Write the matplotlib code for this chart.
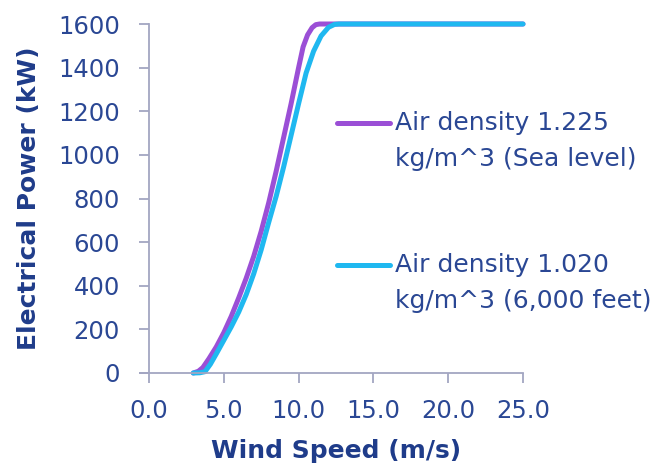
import matplotlib
matplotlib.use('Agg')
import matplotlib.pyplot as plt
from matplotlib.lines import Line2D

# wind speed (m/s) and power (kW)
ws_sea = [2.96, 3.3, 3.6, 4.0, 4.5, 5.0, 5.5, 6.0, 6.5, 7.0, 7.5, 8.0, 8.5, 9.0,
          9.5, 10.0, 10.3, 10.6, 10.9, 11.15, 11.4, 25.0]
pw_sea = [0, 8, 25, 65, 120, 185, 260, 345, 435, 535, 650, 780, 925, 1080,
          1235, 1400, 1495, 1550, 1583, 1597, 1600, 1600]

ws_6k = [2.96, 3.4, 3.74, 4.1, 4.5, 5.0, 5.5, 6.0, 6.5, 7.0, 7.5, 8.0, 8.5, 9.0,
         9.5, 10.0, 10.5, 11.0, 11.5, 12.0, 12.4, 12.7, 25.0]
pw_6k = [0, 1, 6, 40, 88, 150, 212, 280, 360, 455, 565, 690, 810, 945,
         1090, 1235, 1375, 1475, 1545, 1585, 1598, 1600, 1600]

lab_sea = ['Air density 1.225', 'kg/m^3 (Sea level)']
lab_6k = ['Air density 1.020', 'kg/m^3 (6,000 feet)']

xticks = [0, 5, 10, 15, 20, 25]
yticks = list(range(0, 1601, 200))

purple = '#9B4FD6'
cyan = '#1FB8F0'
txt = '#2A4794'
dark = '#1F3C8A'
axcol = '#A3A6C2'

plt.rcParams['font.family'] = ['DejaVu Sans']

fig = plt.figure(figsize=(6.64, 4.68), dpi=100)
ax = fig.add_axes([149/664, 1-373/468, (523-149)/664, (373-24)/468])

ax.plot(ws_sea, pw_sea, color=purple, lw=3.6, clip_on=False, solid_capstyle='round')
ax.plot(ws_6k, pw_6k, color=cyan, lw=3.6, clip_on=False, solid_capstyle='round')

ax.set_xlim(0, 25)
ax.set_ylim(0, 1600)
ax.set_xticks(xticks)
ax.set_xticklabels(['%.1f' % v for v in xticks])
ax.set_yticks(yticks)

for s in ['top', 'right']:
    ax.spines[s].set_visible(False)
for s in ['left', 'bottom']:
    ax.spines[s].set_color(axcol)
    ax.spines[s].set_linewidth(1.3)
ax.spines['bottom'].set_bounds(-0.6, 25)
ax.tick_params(axis='both', colors=axcol, width=1.3, length=7, labelsize=17.5, labelcolor=txt)
ax.tick_params(axis='y', pad=14)
ax.tick_params(axis='x', pad=12)

ax.set_xlabel('Wind Speed (m/s)', fontsize=18, fontweight='bold', color=dark, labelpad=11)
ax.set_ylabel('Electrical Power (kW)', fontsize=18, fontweight='bold', color=dark, labelpad=12)

# legend drawn by hand so the line sits beside the first text line
for y0, col, labs in [(123, purple, lab_sea), (265, cyan, lab_6k)]:
    fig.add_artist(Line2D([337/664, 390/664], [1-y0/468, 1-y0/468], color=col, lw=3.6,
                          solid_capstyle='round'))
    fig.text(395/664, 1-y0/468, labs[0], fontsize=18, color=txt, va='center', ha='left')
    fig.text(395/664, 1-(y0+36)/468, labs[1], fontsize=18, color=txt, va='center', ha='left')

fig.savefig('out.png', dpi=100)
